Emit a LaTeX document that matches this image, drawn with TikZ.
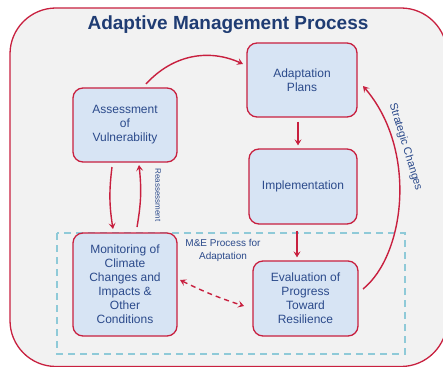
\documentclass[tikz,border=0pt]{standalone}
\usepackage{fontspec}
\setmainfont{Liberation Sans}
\usetikzlibrary{arrows.meta}
\definecolor{bgray}{HTML}{F2F2F2}
\definecolor{crim}{HTML}{C8203F}
\definecolor{boxfill}{HTML}{D7E4F4}
\definecolor{txtblue}{HTML}{2B4A8B}
\definecolor{titleblue}{HTML}{1F3C73}
\definecolor{teal}{HTML}{8FCAD8}
\tikzset{
  stagebox/.style={draw=crim, line width=1.3pt, fill=boxfill, rounded corners=10pt,
    text=txtblue, align=center, font=\fontsize{12}{14}\selectfont, inner sep=0pt},
  flow/.style={draw=crim, line width=1.4pt, -{Stealth[length=6pt,width=7pt,inset=2.5pt]}},
  dflow/.style={draw=crim, line width=1.4pt, dash pattern=on 5pt off 4pt,
    {Stealth[length=6pt,width=7pt,inset=2.5pt]}-{Stealth[length=6pt,width=7pt,inset=2.5pt]}},
  lbl/.style={text=txtblue, inner sep=0pt}
}
\begin{document}
\begin{tikzpicture}[x=1pt,y=-1pt]
\useasboundingbox (0,0) rectangle (443,366);
\clip (0,0) rectangle (443,366);
\fill[white] (0,0) rectangle (443,366);
\draw[crim, line width=1.3pt, fill=bgray, rounded corners=46pt] (10,8) rectangle (447,366.5);
\node[font=\fontsize{19}{22}\bfseries, text=titleblue] (title) at (228,25) {Adaptive Management Process};
\draw[teal, line width=1.2pt, dash pattern=on 7pt off 5pt] (57,233) rectangle (405,354);
\node[stagebox, minimum width=110pt, minimum height=74pt] (plans) at (302,80) {Adaptation\\Plans};
\node[stagebox, minimum width=104pt, minimum height=74pt] (assess) at (125,125) {Assessment\\of\\Vulnerability};
\node[stagebox, minimum width=108pt, minimum height=75pt] (impl) at (303,186.5) {Implementation};
\node[stagebox, minimum width=104pt, minimum height=103pt] (monit) at (125,284.5) {Monitoring of\\Climate\\Changes and\\Impacts \&\\Other\\Conditions};
\node[stagebox, minimum width=105pt, minimum height=75pt] (evalu) at (305.5,298.5) {Evaluation of\\Progress\\Toward\\Resilience};
\node[lbl, align=center, font=\fontsize{10}{13}\selectfont] (me) at (223,250) {M\&E Process for\\Adaptation};
\draw[flow] (146,84) coordinate (a1) to[bend left=36] (243,64) coordinate (p1);
\draw[flow] ([xshift=-4pt,yshift=-4pt]plans.south) -- ([xshift=-5pt,yshift=3pt]impl.north);
\draw[flow] ([xshift=-6pt,yshift=-6pt]impl.south) -- ([xshift=-8.5pt,yshift=3pt]evalu.north);
\draw[flow] (363,289) coordinate (e1) .. controls (405,255) and (418,150) .. (363,86) coordinate (p2);
\draw[flow] (112,167) coordinate (s1) to[bend right=8] (113,229) coordinate (m1);
\draw[flow] (137,227) coordinate (m2) to[bend right=8] (139,165) coordinate (s2);
\draw[dflow] (180,280) coordinate (m3) to[bend right=4] (244,306) coordinate (e2);
\node[lbl, font=\fontsize{8}{9}\selectfont, rotate=-90] (reas) at (158,195) {Reassessment};
\node[lbl, font=\fontsize{11}{13}\selectfont, rotate=-73] (strat) at (405.5,147) {Strategic Changes};
\end{tikzpicture}
\end{document}
